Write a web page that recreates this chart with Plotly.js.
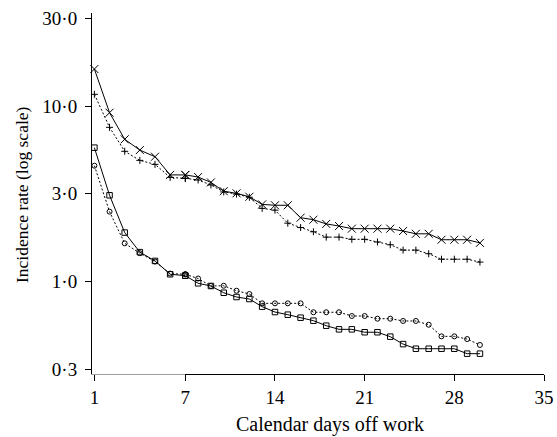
<!DOCTYPE html>
<html>
<head>
<meta charset="utf-8">
<script src="https://cdn.plot.ly/plotly-3.0.1.min.js"></script>
<style>html,body{margin:0;padding:0;background:#fff;}#chart{width:557px;height:437px;}</style>
</head>
<body>
<div id="chart"></div>
<script>
// Calendar days off work
const days = [1,2,3,4,5,6,7,8,9,10,11,12,13,14,15,16,17,18,19,20,21,22,23,24,25,26,27,28,29,30];
// Series marked with × (solid line)
const seriesCrossX = [16.25,9.16,6.46,5.61,5.14,4.05,4.05,3.94,3.67,3.27,3.18,3.04,2.75,2.72,2.72,2.31,2.25,2.13,2.07,2.00,2.00,2.00,2.00,1.94,1.87,1.87,1.73,1.73,1.73,1.66];
// Series marked with + (dotted line)
const seriesPlus = [11.66,7.56,5.52,4.90,4.65,3.92,3.87,3.79,3.55,3.24,3.15,3.02,2.61,2.55,2.15,2.03,1.92,1.79,1.79,1.74,1.74,1.68,1.62,1.51,1.51,1.44,1.34,1.34,1.34,1.29];
// Series marked with squares (solid line)
const seriesSquare = [5.79,3.10,1.90,1.47,1.31,1.10,1.08,0.977,0.943,0.863,0.816,0.795,0.719,0.670,0.647,0.622,0.598,0.560,0.534,0.534,0.514,0.514,0.485,0.440,0.414,0.414,0.414,0.414,0.388,0.388];
// Series marked with circles (dotted line)
const seriesCircle = [4.57,2.50,1.65,1.45,1.30,1.11,1.10,1.04,0.943,0.946,0.886,0.849,0.751,0.751,0.751,0.751,0.668,0.668,0.668,0.636,0.636,0.614,0.614,0.596,0.596,0.567,0.487,0.487,0.470,0.435];
// Axis ticks
const xTickVals1 = [1,7];
const xTickText1 = ['1','7'];
const xTickVals2 = [14,21,28,35];
const xTickText2 = ['14','21','28','35'];
const yTickVals = [Math.pow(10,-0.5),1,Math.pow(10,0.5),10,Math.pow(10,1.5)];
const yTickText = ['0·3','1·0','3·0','10·0','30·0'];

const styles = [
  {y: seriesCrossX, sym:'x-thin-open', size:8, dash:'solid'},
  {y: seriesPlus, sym:'cross-thin-open', size:5, dash:'2px,2px'},
  {y: seriesSquare, sym:'square-open', size:5.5, dash:'solid'},
  {y: seriesCircle, sym:'circle-open', size:5, dash:'2px,2px'}
];

const splitDay = 7;
const traces = [];
styles.forEach(s => {
  const idxA = days.map((d,i)=>i).filter(i => days[i] <= splitDay);
  const idxB = days.map((d,i)=>i).filter(i => days[i] >= splitDay);
  [[idxA,'x'],[idxB,'x2']].forEach(([idx,ax]) => {
    traces.push({
      x: idx.map(i=>days[i]), y: idx.map(i=>s.y[i]),
      xaxis: ax, yaxis: 'y', type:'scatter', mode:'lines+markers',
      cliponaxis:false, hoverinfo:'skip',
      line:{color:'#000', width:1, dash:s.dash},
      marker:{symbol:s.sym, size:s.size, color:'#000', line:{color:'#000', width:1}}
    });
  });
});

const W = 557, H = 437, L = 92, R = 13, T = 13, B = 63;
const pw = W - L - R, ph = H - T - B;
const split = (185.3 - L) / pw;

const fam = '"Liberation Serif", "Times New Roman", serif';
const tickFont = {family:fam, color:'#000', size:19};
const axBase = {ticks:'outside', ticklen:6, tickwidth:1, tickcolor:'#000', showline:true, linewidth:1,
  showgrid:false, zeroline:false, tickfont:tickFont, fixedrange:true};

const layout = {
  width:W, height:H,
  margin:{l:L, r:R, t:T, b:B, pad:0},
  showlegend:false,
  paper_bgcolor:'#fff', plot_bgcolor:'#fff',
  font: {family:fam, color:'#000', size:17},
  xaxis: Object.assign({}, axBase, {domain:[0, split], range:[0.842, 7], tickmode:'array',
    tickvals:xTickVals1, ticktext:xTickText1, linecolor:'#a0a0a0', anchor:'y'}),
  xaxis2: Object.assign({}, axBase, {domain:[split, 1], range:[7, 35], tickmode:'array',
    tickvals:xTickVals2, ticktext:xTickText2, linecolor:'#000', anchor:'y'}),
  yaxis: Object.assign({}, axBase, {type:'log', range:[-0.527, 1.530], tickmode:'array',
    tickvals:yTickVals, ticktext:yTickText, linecolor:'#000', anchor:'x', ticklabelstandoff:4}),
  annotations:[
    {text:'Calendar days off work', xref:'paper', yref:'paper', x:(330-L)/pw, y:-(424-(H-B))/ph,
     xanchor:'center', yanchor:'middle', showarrow:false, font:{family:fam, color:'#000', size:20}},
    {text:'Incidence rate (log scale)', xref:'paper', yref:'paper', x:(22-L)/pw, y:1-(195-T)/ph,
     xanchor:'center', yanchor:'middle', textangle:-90, showarrow:false, font:{family:fam, color:'#000', size:17.5}}
  ]
};

Plotly.newPlot('chart', traces, layout, {staticPlot:true, displayModeBar:false});
</script>
</body>
</html>
